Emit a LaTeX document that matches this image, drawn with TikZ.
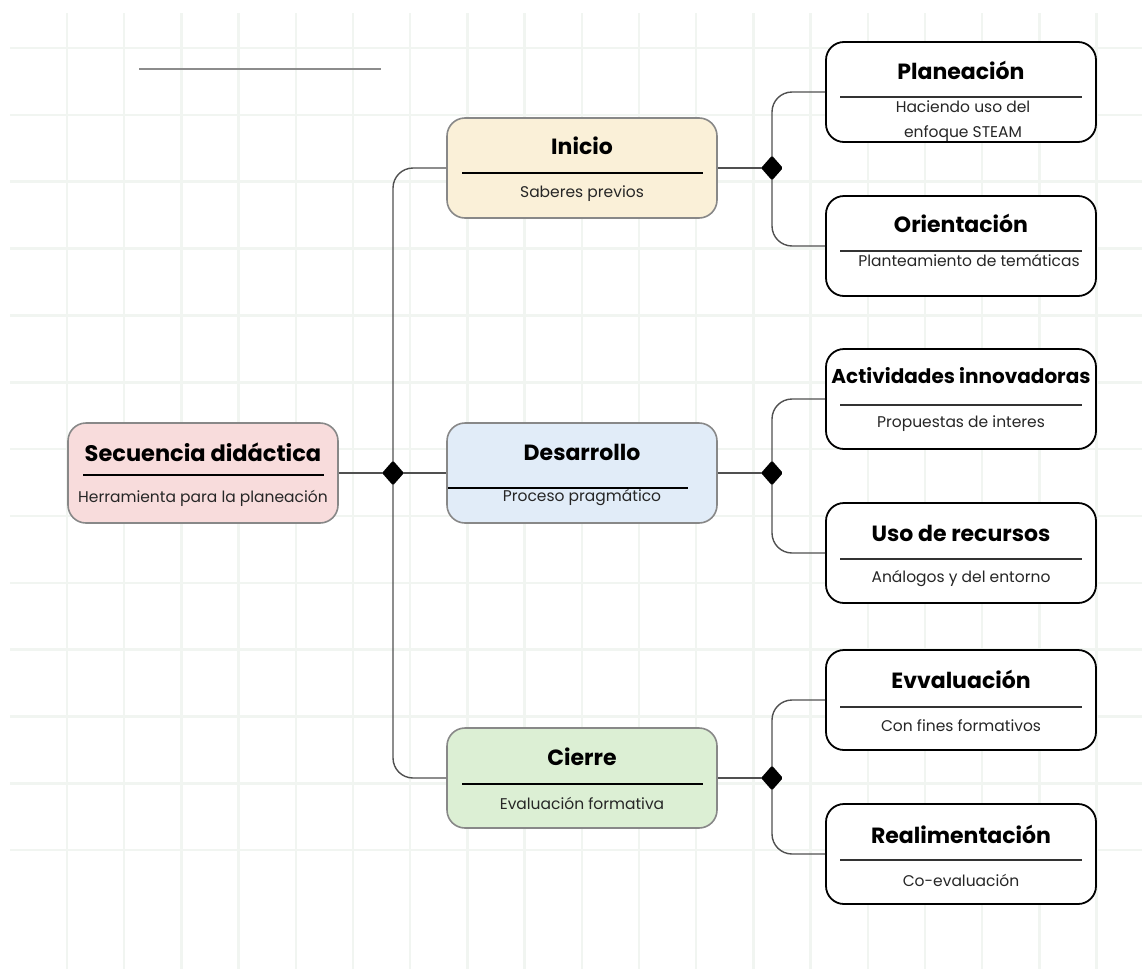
\documentclass[tikz,border=0pt]{standalone}
\usepackage{fontspec}
\setmainfont{Poppins}
\usetikzlibrary{shapes.geometric}

\definecolor{gridcol}{HTML}{F1F5F1}
\definecolor{inifill}{HTML}{FAF0D8}
\definecolor{desfill}{HTML}{E1ECF8}
\definecolor{ciefill}{HTML}{DCEFD4}
\definecolor{secfill}{HTML}{F8DCDC}
\definecolor{boxedge}{HTML}{888888}
\definecolor{linkcol}{HTML}{505050}

\begin{document}
\begin{tikzpicture}[x=1pt,y=-1pt,
	phase/.style={draw=boxedge,line width=1.6pt,rounded corners=18pt,minimum width=270pt,minimum height=100pt,inner sep=0pt},
	substep/.style={draw=black,line width=1.8pt,fill=white,rounded corners=18pt,minimum width=270pt,minimum height=100pt,inner sep=0pt},
	ttl/.style={font=\bfseries\fontsize{22}{24}\selectfont},
	subtxt/.style={font=\fontsize{15.5}{25}\selectfont,text=black!85,align=center},
	joint/.style={diamond,fill=black,inner sep=0pt,minimum width=22pt,minimum height=25pt,rounded corners=1.5pt},
	link/.style={draw=linkcol,line width=1.4pt,rounded corners=20pt}]
			\useasboundingbox (0,0) rectangle (1142,969);
			
			% fondo cuadriculado
			\foreach \gx in {0,...,18} \draw[gridcol,line width=2.5pt] ({67+57.2*\gx},13) -- ({67+57.2*\gx},969);
			\foreach \gy in {0,...,12} \draw[gridcol,line width=2.5pt] (10,{48+66.85*\gy}) -- (1142,{48+66.85*\gy});
			\draw[black!45,line width=2pt] (139,69) -- (381,69);
			
			% nodo central
			\node[phase,fill=secfill] (sec) at (203,473) {};
			\node[ttl,font=\bfseries\fontsize{22.5}{24}\selectfont] (secT) at (203,452) {Secuencia didáctica}; \draw[line width=1.3pt] (83,475) -- (324,475);
			\node[subtxt] (secS) at (203,498) {Herramienta para la planeación};
			
			% fases
			\node[phase,fill=inifill] (ini) at (582,168) {};
			\node[ttl] (iniT) at (582,146) {Inicio}; \draw[line width=1.3pt] (462,173) -- (703,173);
			\node[subtxt] (iniS) at (582,194) {Saberes previos};
			
			\node[phase,fill=desfill] (des) at (582,473) {};
			\node[ttl] (desT) at (582,452) {Desarrollo}; \draw[line width=1.3pt] (448,488) -- (688,488);
			\node[subtxt] (desS) at (582,498) {Proceso pragmático};
			
			\node[phase,fill=ciefill] (cie) at (582,778) {};
			\node[ttl] (cieT) at (582,757) {Cierre}; \draw[line width=1.3pt] (462,784) -- (703,784);
			\node[subtxt] (cieS) at (582,803) {Evaluación formativa};
			
			% subfases
			\node[substep] (pla) at (961,92) {};
			\node[ttl] (plaT) at (961,70) {Planeación}; \draw[black!80,line width=1.3pt] (840,97) -- (1082,97);
			\node[subtxt] (plaS) at (963,121) {Haciendo uso del\\enfoque STEAM};
			
			\node[substep] (ori) at (961,246) {};
			\node[ttl] (oriT) at (961,223) {Orientación}; \draw[black!80,line width=1.3pt] (840,251) -- (1082,251);
			\node[subtxt] (oriS) at (969,261) {Planteamiento de temáticas};
			
			\node[substep] (act) at (961,399) {};
			\node[ttl,font=\bfseries\fontsize{20}{24}\selectfont] (actT) at (961,376) {Actividades innovadoras}; \draw[black!80,line width=1.3pt] (840,405) -- (1082,405);
			\node[subtxt] (actS) at (961,424) {Propuestas de interes};
			
			\node[substep] (uso) at (961,553) {};
			\node[ttl] (usoT) at (961,533) {Uso de recursos}; \draw[black!80,line width=1.3pt] (840,559) -- (1082,559);
			\node[subtxt] (usoS) at (961,579) {Análogos y del entorno};
			
			\node[substep] (eva) at (961,700) {};
			\node[ttl] (evaT) at (961,679) {Evvaluación}; \draw[black!80,line width=1.3pt] (840,707) -- (1082,707);
			\node[subtxt] (evaS) at (961,726) {Con fines formativos};
			
			\node[substep] (rea) at (961,854) {};
			\node[ttl] (reaT) at (961,834) {Realimentación}; \draw[black!80,line width=1.3pt] (840,860) -- (1082,860);
			\node[subtxt] (reaS) at (961,880) {Co-evaluación};
			
			% uniones
			\coordinate (j0) at (393,473);
			\coordinate (j1) at (772,168);
			\coordinate (j2) at (772,473);
			\coordinate (j3) at (772,778);
			
			\draw[link] (sec.east) -- (des.west);
			\draw[link] (ini.west) -| (j0) |- (cie.west);
			\draw[link] (ini.east) -- (j1); \draw[link] (pla.west) -| (j1) |- (ori.west);
			\draw[link] (des.east) -- (j2); \draw[link] (act.west) -| (j2) |- (uso.west);
			\draw[link] (cie.east) -- (j3); \draw[link] (eva.west) -| (j3) |- (rea.west);
			
			\node[joint] (d0) at (j0) {};
			\node[joint] (d1) at (j1) {};
			\node[joint] (d2) at (j2) {};
			\node[joint] (d3) at (j3) {};
\end{tikzpicture}
\end{document}
